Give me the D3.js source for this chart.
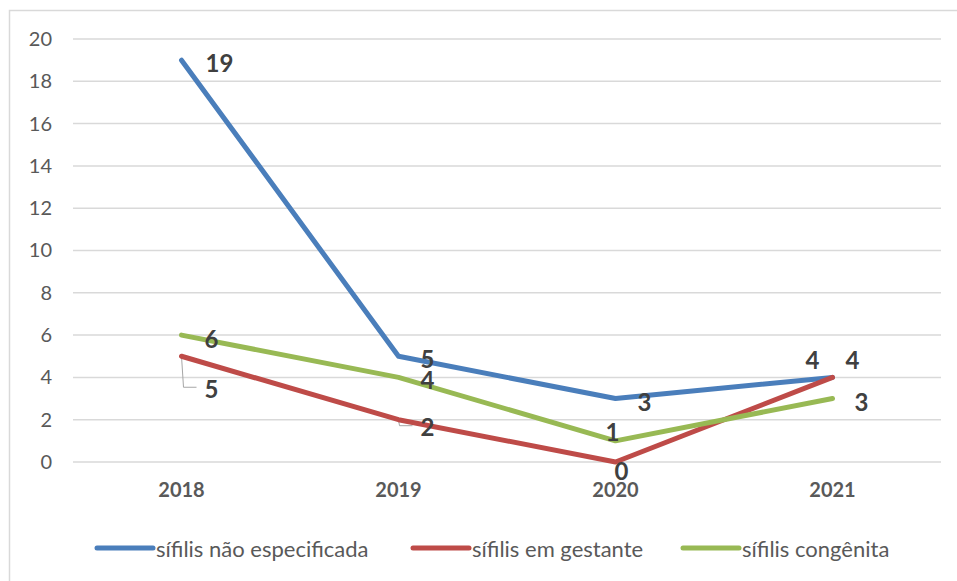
<!DOCTYPE html>
<html>
<head>
<meta charset="utf-8">
<script src="https://cdn.jsdelivr.net/npm/d3@7"></script>
<style>
  body { margin: 0; background: #fff; }
  text { font-family: Lato, "Open Sans", sans-serif; }
</style>
</head>
<body>
<svg id="chart"></svg>
<script>
// data
var years = ["2018", "2019", "2020", "2021"];
var naoEspecificada = [19, 5, 3, 4];
var emGestante = [5, 2, 0, 4];
var congenita = [6, 4, 1, 3];
var yTicks = [0, 2, 4, 6, 8, 10, 12, 14, 16, 18, 20];

var width = 957, height = 581;
var margin = { left: 73, top: 39, right: 16, bottom: 119 };

var svg = d3.select("#chart").attr("width", width).attr("height", height);

// chart frame (cropped on right/bottom)
svg.append("path")
    .attr("d", "M9.5," + height + " V10.5 H" + width)
    .attr("fill", "none").attr("stroke", "#d9d9d9").attr("stroke-width", 1.5);

var x = d3.scaleBand().domain(years).range([margin.left, width - margin.right]);
var y = d3.scaleLinear().domain([0, 20]).range([height - margin.bottom, margin.top]);

// grid
svg.append("g").selectAll("line").data(yTicks).enter().append("line")
    .attr("x1", margin.left).attr("x2", width - margin.right)
    .attr("y1", function(d) { return y(d); }).attr("y2", function(d) { return y(d); })
    .attr("stroke", "#d9d9d9").attr("stroke-width", 1.5);

// y axis labels
var yAxis = d3.axisLeft(y).tickValues(yTicks).tickSize(0).tickPadding(21);
var yG = svg.append("g").attr("transform", "translate(" + margin.left + ",0)").call(yAxis);
yG.select(".domain").remove();
yG.selectAll("text").attr("font-size", 20).attr("fill", "#595959")
    .style("font-family", "Lato, sans-serif");

// x axis labels
var xAxis = d3.axisBottom(x).tickSize(0).tickPadding(21);
var xG = svg.append("g").attr("transform", "translate(0," + y(0) + ")").call(xAxis);
xG.select(".domain").remove();
xG.selectAll("text").attr("font-size", 20).attr("font-weight", "bold").attr("fill", "#595959")
    .style("font-family", "Lato, sans-serif");

var series = [
  { name: "sífilis não especificada", values: naoEspecificada, color: "#4a7ebb",
    offs: [[38, 2], [29, 2], [29, 3], [20, -18]] },
  { name: "sífilis em gestante", values: emGestante, color: "#be4b48",
    offs: [[30, 32], [29, 7], [6, 8], [-20, -18]] },
  { name: "sífilis congênita", values: congenita, color: "#98b954",
    offs: [[30, 3], [29, 2], [-3, -9], [29, 3]] }
];

var line = d3.line()
    .x(function(d, i) { return x(years[i]) + x.bandwidth() / 2; })
    .y(function(d) { return y(d); });

// leader lines for displaced labels (red 2018 / 2019)
var red = series[1];
var px0 = x(years[0]) + x.bandwidth() / 2, py0 = y(red.values[0]);
svg.append("path")
    .attr("d", "M" + px0 + "," + py0 + " L" + (px0 + 2) + "," + (py0 + 31) + " H" + (px0 + 15))
    .attr("fill", "none").attr("stroke", "#a6a6a6").attr("stroke-width", 1);
var px1 = x(years[1]) + x.bandwidth() / 2, py1 = y(red.values[1]);
svg.append("path")
    .attr("d", "M" + px1 + "," + py1 + " L" + (px1 + 1) + "," + (py1 + 6) + " H" + (px1 + 14))
    .attr("fill", "none").attr("stroke", "#a6a6a6").attr("stroke-width", 1);

series.forEach(function(s) {
  svg.append("path").datum(s.values)
      .attr("d", line).attr("fill", "none")
      .attr("stroke", s.color).attr("stroke-width", 5)
      .attr("stroke-linejoin", "round").attr("stroke-linecap", "round");
});

series.forEach(function(s) {
  svg.append("g").selectAll("text").data(s.values).enter().append("text")
      .attr("x", function(d, i) { return x(years[i]) + x.bandwidth() / 2 + s.offs[i][0]; })
      .attr("y", function(d, i) { return y(d) + s.offs[i][1]; })
      .attr("text-anchor", "middle").attr("dominant-baseline", "central")
      .attr("font-size", 24).attr("font-weight", "bold").attr("fill", "#404040")
      .text(function(d) { return d; });
});

// legend
var legendX = [97, 413, 683];
var lg = svg.append("g");
series.forEach(function(s, i) {
  lg.append("line")
      .attr("x1", legendX[i]).attr("x2", legendX[i] + 56)
      .attr("y1", 548).attr("y2", 548)
      .attr("stroke", s.color).attr("stroke-width", 5).attr("stroke-linecap", "round");
  lg.append("text")
      .attr("x", legendX[i] + 59).attr("y", 548)
      .attr("dominant-baseline", "central")
      .attr("font-size", 22).attr("fill", "#595959")
      .text(s.name);
});
</script>
</body>
</html>
